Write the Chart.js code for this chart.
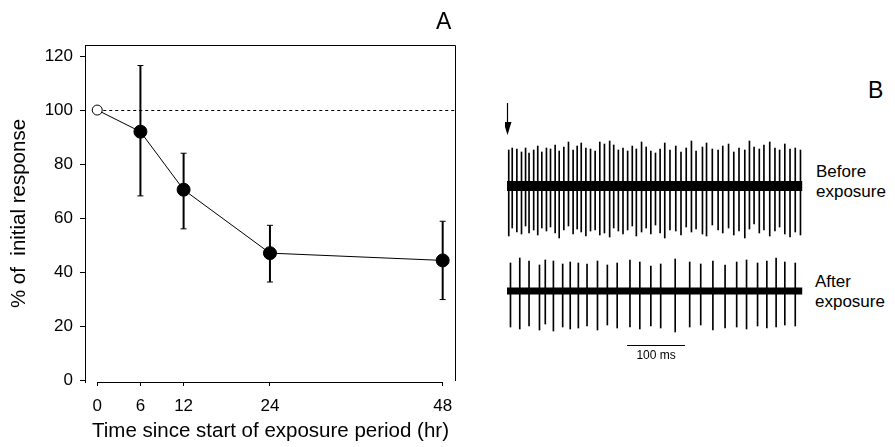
<!DOCTYPE html>
<html>
<head>
<meta charset="utf-8">
<script src="https://cdn.jsdelivr.net/npm/chart.js@4.4.1/dist/chart.umd.min.js"></script>
<style>
  body { margin: 0; background: #fff; }
  #wrap { position: relative; width: 895px; height: 447px; font-family: "Liberation Sans", Arial, Helvetica, sans-serif; color: #000; }
  canvas { position: absolute; }
  .lbl { position: absolute; line-height: 20px; font-size: 17px; }
</style>
</head>
<body>
<div id="wrap">
  <canvas id="chartA" style="left:0;top:0" width="480" height="447"></canvas>
  <canvas id="chartBefore" style="left:505px;top:95px" width="300" height="155"></canvas>
  <canvas id="chartAfter" style="left:505px;top:250px" width="300" height="120"></canvas>
  <div class="lbl" style="left:436px;top:8px;font-size:23px;line-height:26px">A</div>
  <div class="lbl" style="left:868px;top:77px;font-size:23px;line-height:26px">B</div>
  <div class="lbl" style="left:816px;top:162px">Before<br>exposure</div>
  <div class="lbl" style="left:815px;top:272px">After<br>exposure</div>
</div>
<script>
//----PANEL A DATA----
const hours = [0, 6, 12, 24, 48];
const response = [100, 92, 70.5, 47, 44.3];
const errHigh = [100, 116.5, 84, 57.3, 58.8];
const errLow = [100, 68.2, 56, 36.3, 29.8];
const xTicks = [0, 6, 12, 24, 48];

//----PANEL B DATA (spike times in ms, peak / trough relative to baseline)----
const beforeSpikes = [3, 9, 17, 25, 32, 38, 46, 53, 60, 68, 75, 83, 90, 98, 106, 114, 121, 128, 136, 144,
  152, 160, 168, 177, 184, 192, 200, 208, 216, 223, 232, 240, 248, 256, 264, 272, 281, 291, 300, 309,
  318, 326, 337, 344, 354, 364, 372, 382, 391, 400, 410, 418, 426, 435, 443, 453, 462, 470, 479, 488, 497, 506];
const beforeUp = [36, 38, 37, 34, 38, 33, 36, 40, 34, 38, 37, 41, 35, 39, 44, 36, 40, 43, 38, 37,
  35, 44, 42, 45, 41, 36, 38, 35, 40, 37, 44, 39, 35, 33, 37, 43, 36, 40, 34, 38,
  45, 35, 39, 43, 37, 36, 40, 42, 34, 38, 36, 45, 39, 37, 41, 44, 38, 36, 42, 37, 38, 36];
const beforeDown = [-50, -42, -46, -48, -40, -47, -44, -49, -42, -45, -41, -47, -52, -44, -40, -48, -43, -46, -50, -45,
  -44, -49, -47, -51, -42, -45, -48, -44, -40, -50, -46, -42, -48, -39, -47, -52, -44, -45, -49, -41,
  -46, -43, -48, -50, -39, -44, -47, -42, -49, -45, -52, -43, -38, -47, -44, -50, -45, -41, -48, -51, -46, -49];
const afterSpikes = [6, 22, 38, 56, 66, 80, 96, 109, 123, 138, 156, 173, 190, 212, 229, 248, 265, 290, 315, 334,
  355, 376, 396, 413, 432, 448, 464, 479, 497];
const afterUp = [28, 33, 30, 26, 31, 30, 27, 29, 28, 27, 30, 26, 28, 31, 29, 25, 27, 32, 29, 27,
  30, 26, 29, 31, 28, 30, 33, 29, 28];
const afterDown = [-36, -38, -35, -39, -33, -40, -36, -38, -37, -35, -39, -34, -37, -36, -38, -35, -37, -41, -36, -34,
  -39, -37, -36, -38, -35, -37, -36, -34, -35];
const traceSpan = [0, 509];
const scaleBarMs = [207, 307];

const FONT = '"Liberation Sans", Arial, Helvetica, sans-serif';

//----PLUGINS----
const frameAndErrors = {
  id: 'frameAndErrors',
  beforeDatasetsDraw(chart) {
    const { ctx, chartArea: { top, bottom, left, right }, scales: { x, y } } = chart;
    ctx.save();
    // box (no bottom edge) + short x axis line
    ctx.strokeStyle = '#000';
    ctx.lineWidth = 1;
    ctx.beginPath();
    ctx.moveTo(left + 0.5, top + 0.5);
    ctx.lineTo(right - 0.5, top + 0.5);
    ctx.lineTo(right - 0.5, bottom - 1);
    ctx.stroke();
    ctx.beginPath();
    ctx.moveTo(x.getPixelForValue(0), bottom + 0.5);
    ctx.lineTo(x.getPixelForValue(48), bottom + 0.5);
    ctx.stroke();
    // dotted reference line at 100 %
    ctx.setLineDash([3, 3]);
    ctx.beginPath();
    ctx.moveTo(x.getPixelForValue(0), Math.round(y.getPixelForValue(100)) + 0.5);
    ctx.lineTo(right, Math.round(y.getPixelForValue(100)) + 0.5);
    ctx.stroke();
    ctx.setLineDash([]);
    // error bars
    hours.forEach((h, i) => {
      if (errHigh[i] === errLow[i]) return;
      const px = x.getPixelForValue(h);
      const yh = y.getPixelForValue(errHigh[i]);
      const yl = y.getPixelForValue(errLow[i]);
      ctx.lineWidth = 2;
      ctx.beginPath();
      ctx.moveTo(px, yh);
      ctx.lineTo(px, yl);
      ctx.stroke();
      ctx.lineWidth = 1;
      ctx.beginPath();
      ctx.moveTo(px - 3, yh); ctx.lineTo(px + 3, yh);
      ctx.moveTo(px - 3, yl); ctx.lineTo(px + 3, yl);
      ctx.stroke();
    });
    ctx.restore();
  }
};

const configA = {
  type: 'line',
  data: {
    labels: hours,
    datasets: [{
      data: hours.map((h, i) => ({ x: h, y: response[i] })),
      borderColor: '#000',
      borderWidth: 1,
      tension: 0,
      pointRadius: hours.map((h, i) => i === 0 ? 5 : 6.5),
      pointBackgroundColor: hours.map((h, i) => i === 0 ? '#fff' : '#000'),
      pointBorderColor: '#000',
      pointBorderWidth: 1
    }]
  },
  options: {
    responsive: false,
    animation: false,
    layout: { padding: { left: 0, top: 45, right: 24, bottom: 0 } },
    scales: {
      x: {
        type: 'linear',
        min: -1.7, max: 49.85,
        afterBuildTicks: (s) => { s.ticks = xTicks.map(v => ({ value: v })); },
        afterFit: (s) => { s.height = 65; },
        grid: { drawOnChartArea: false, drawTicks: true, tickLength: 4, color: '#000' },
        border: { display: false },
        ticks: { color: '#000', padding: 10, maxRotation: 0, font: { family: FONT, size: 17 } },
        title: { display: true, text: 'Time since start of exposure period (hr)', color: '#000',
                 padding: { top: 0, bottom: 3 }, font: { family: FONT, size: 20.5 } }
      },
      y: {
        min: -0.74, max: 124.1,
        afterFit: (s) => { s.width = 85; },
        ticks: { stepSize: 20, includeBounds: false, color: '#000', padding: 7, font: { family: FONT, size: 17 } },
        grid: { drawOnChartArea: false, drawTicks: true, tickLength: 5, color: '#000' },
        border: { display: true, color: '#000', width: 1 },
        title: { display: true, text: '% of  initial response', color: '#000',
                 padding: { top: 7, bottom: 0 }, font: { family: FONT, size: 20.5 } }
      }
    },
    plugins: { legend: { display: false }, tooltip: { enabled: false } }
  },
  plugins: [frameAndErrors]
};
new Chart(document.getElementById('chartA'), configA);

//----PANEL B----
const arrowPlugin = {
  id: 'arrow',
  afterDraw(chart) {
    const { ctx, chartArea: { top }, scales: { x } } = chart;
    const px = Math.round(x.getPixelForValue(0)) + 0.5;
    ctx.save();
    ctx.strokeStyle = '#000';
    ctx.fillStyle = '#000';
    ctx.lineWidth = 1.2;
    ctx.beginPath();
    ctx.moveTo(px, top + 8);
    ctx.lineTo(px, top + 30);
    ctx.stroke();
    ctx.beginPath();
    ctx.moveTo(px - 4, top + 27);
    ctx.lineTo(px + 4, top + 27);
    ctx.lineTo(px, top + 40);
    ctx.closePath();
    ctx.fill();
    ctx.restore();
  }
};

const scaleBarPlugin = {
  id: 'scaleBar',
  afterDraw(chart) {
    const { ctx, chartArea: { bottom }, scales: { x } } = chart;
    const x0 = x.getPixelForValue(scaleBarMs[0]);
    const x1 = x.getPixelForValue(scaleBarMs[1]);
    const yb = bottom - 24.5;
    ctx.save();
    ctx.strokeStyle = '#000';
    ctx.lineWidth = 1;
    ctx.beginPath();
    ctx.moveTo(x0, yb);
    ctx.lineTo(x1, yb);
    ctx.stroke();
    ctx.fillStyle = '#000';
    ctx.font = '12px ' + FONT;
    ctx.textAlign = 'center';
    ctx.textBaseline = 'top';
    ctx.fillText((scaleBarMs[1] - scaleBarMs[0]) + ' ms', (x0 + x1) / 2, yb + 4);
    ctx.restore();
  }
};

function traceConfig(times, ups, downs, yMin, yMax, band, extra) {
  return {
    data: {
      datasets: [{
        type: 'line',
        data: traceSpan.map(t => ({ x: t, y: 0 })),
        borderColor: '#000',
        borderWidth: band,
        pointRadius: 0
      }, {
        type: 'bar',
        data: times.map((t, i) => ({ x: t, y: [downs[i], ups[i]] })),
        backgroundColor: '#000',
        barThickness: 1,
        borderWidth: 0
      }]
    },
    options: {
      responsive: false,
      animation: false,
      layout: { padding: 0 },
      scales: {
        x: { type: 'linear', min: -3.45, max: 513.8, offset: false, grid: { offset: false }, display: false },
        y: { min: yMin, max: yMax, display: false }
      },
      plugins: { legend: { display: false }, tooltip: { enabled: false } }
    },
    plugins: extra
  };
}

new Chart(document.getElementById('chartBefore'),
  traceConfig(beforeSpikes, beforeUp, beforeDown, -64, 91, 10, [arrowPlugin]));
new Chart(document.getElementById('chartAfter'),
  traceConfig(afterSpikes, afterUp, afterDown, -79, 41, 7, [scaleBarPlugin]));
</script>
</body>
</html>
